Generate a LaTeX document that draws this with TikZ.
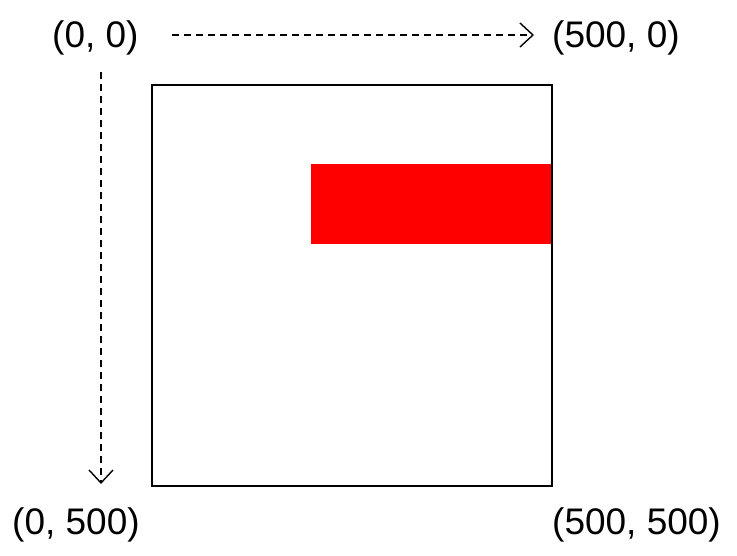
\documentclass[tikz,border=0pt]{standalone}
\usepackage{fontspec}
\setmainfont{Liberation Sans}
\usetikzlibrary{arrows.meta}
\begin{document}
\begin{tikzpicture}[x=1pt,y=-1pt,
  lbl/.style={inner sep=0pt,anchor=base west,font=\fontsize{37}{40}\selectfont},
  dasharrow/.style={line width=1.2pt,dash pattern=on 7pt off 5pt,-{Straight Barb[length=13pt,width=24pt,line width=1.4pt]}},
  frame/.style={draw=black,line width=1.5pt,minimum width=400pt,minimum height=401pt,inner sep=0pt,anchor=north west},
  redbox/.style={fill=red,minimum width=240pt,minimum height=80pt,inner sep=0pt,anchor=north west}]
\useasboundingbox (0,0) rectangle (737,555);
\node[frame] (box) at (151,84) {};
\node[redbox] (rect) at (311,164) {};
\node[lbl] (o) at (52,47) {(0, 0)};
\node[lbl] (x5) at (552,47) {(500, 0)};
\node[lbl] (y5) at (12,534) {(0, 500)};
\node[lbl] (xy5) at (552,534) {(500, 500)};
\coordinate (hs) at (172,35);
\coordinate (he) at (534,35);
\coordinate (vs) at (101,72);
\coordinate (ve) at (101,484);
\draw[dasharrow] (hs) -- (he);
\draw[dasharrow] (vs) -- (ve);
\end{tikzpicture}
\end{document}
